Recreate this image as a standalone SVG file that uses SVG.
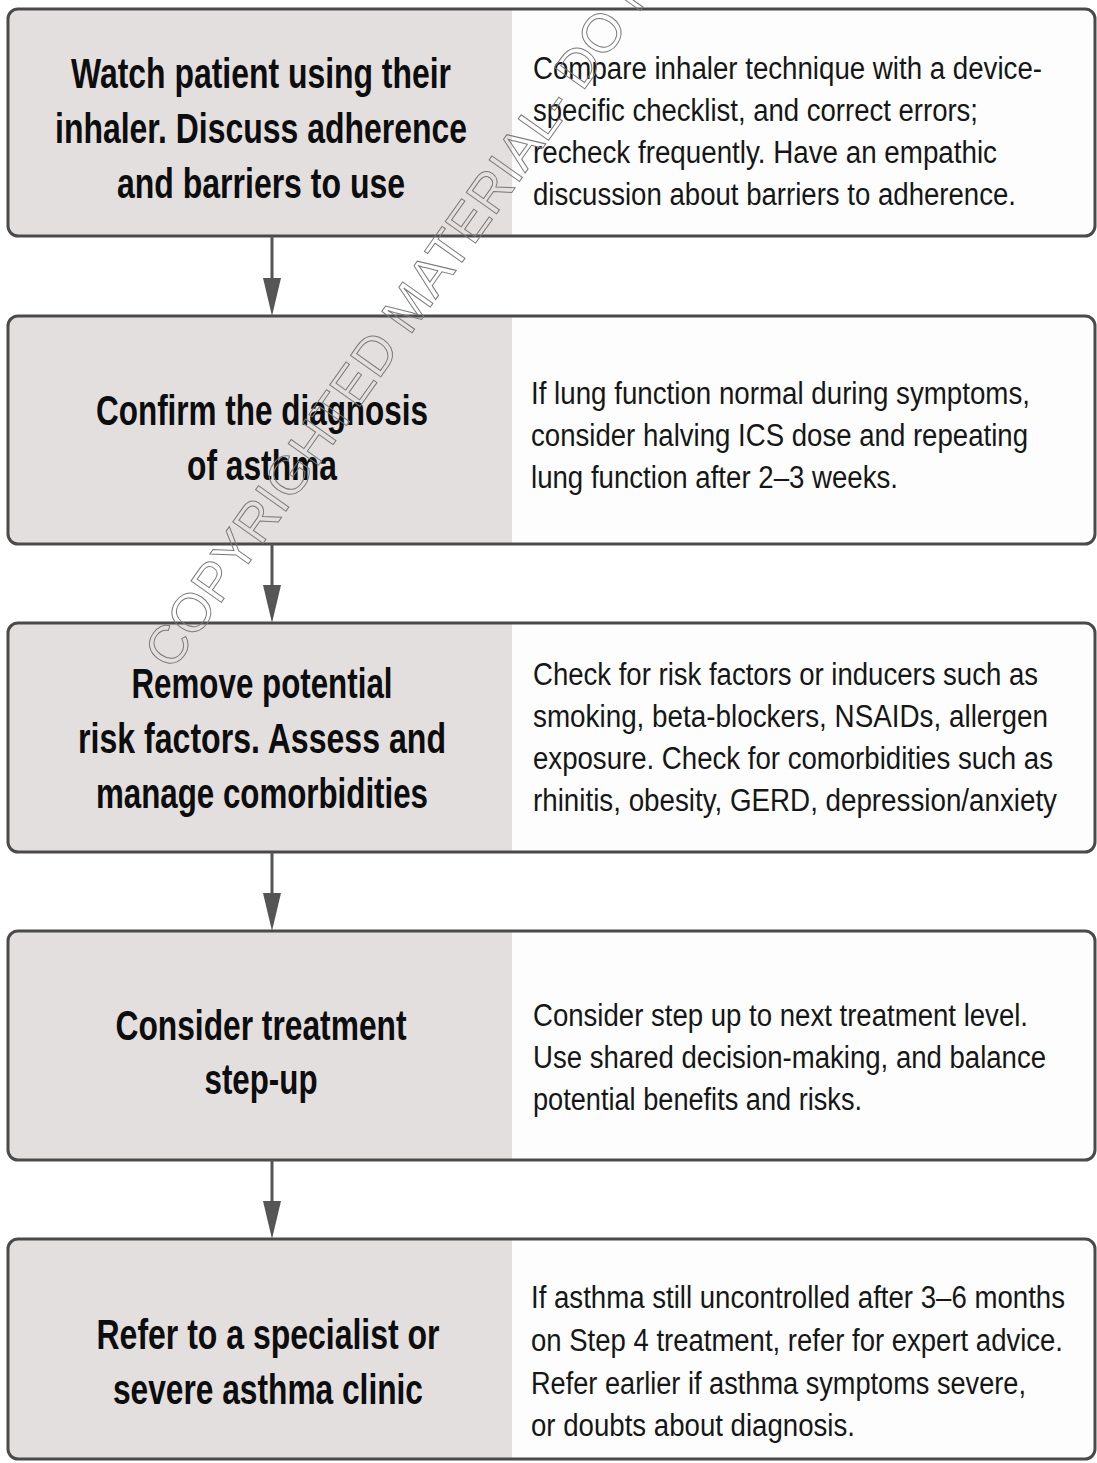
<svg xmlns="http://www.w3.org/2000/svg" width="1097" height="1463" viewBox="0 0 1097 1463">
<defs>
<style>
.bg{fill:#fdfdfd}
.gray{fill:#e3dfde}
.border{fill:none;stroke:#4a4a4a;stroke-width:3}
.lt{font-family:"Liberation Sans",Arial,sans-serif;font-weight:bold;font-size:42px;fill:#0d0d0d;text-anchor:middle}
.rt{font-family:"Liberation Sans",Arial,sans-serif;font-size:31px;fill:#161616}
.conn line{stroke:#555;stroke-width:3}
.conn polygon{fill:#555}
.wm{font-family:"Liberation Sans",Arial,sans-serif;font-size:54px;fill:none;stroke:#7a7a7a;stroke-width:1}
</style>
</defs>
<rect width="1097" height="1463" fill="#ffffff"/>

<g id="node1">
<rect class="bg" x="8" y="9" width="1087" height="227" rx="10"/>
<path class="gray" d="M18,9 H512 V236 H18 A10,10 0 0 1 8,226 V19 A10,10 0 0 1 18,9 Z"/>
<rect class="border" x="8" y="9" width="1087" height="227" rx="10"/>
<text class="lt" x="261" y="88" textLength="380" lengthAdjust="spacingAndGlyphs">Watch patient using their</text>
<text class="lt" x="261" y="143" textLength="412" lengthAdjust="spacingAndGlyphs">inhaler. Discuss adherence</text>
<text class="lt" x="261" y="198" textLength="288" lengthAdjust="spacingAndGlyphs">and barriers to use</text>
<text class="rt" x="533" y="79" textLength="509" lengthAdjust="spacingAndGlyphs">Compare inhaler technique with a device-</text>
<text class="rt" x="533" y="121" textLength="445" lengthAdjust="spacingAndGlyphs">specific checklist, and correct errors;</text>
<text class="rt" x="533" y="163" textLength="464" lengthAdjust="spacingAndGlyphs">recheck frequently. Have an empathic</text>
<text class="rt" x="533" y="205" textLength="483" lengthAdjust="spacingAndGlyphs">discussion about barriers to adherence.</text>
</g>

<g id="node2">
<rect class="bg" x="8" y="316" width="1087" height="228" rx="10"/>
<path class="gray" d="M18,316 H512 V544 H18 A10,10 0 0 1 8,534 V326 A10,10 0 0 1 18,316 Z"/>
<rect class="border" x="8" y="316" width="1087" height="228" rx="10"/>
<text class="lt" x="262" y="425" textLength="332" lengthAdjust="spacingAndGlyphs">Confirm the diagnosis</text>
<text class="lt" x="262" y="480" textLength="150" lengthAdjust="spacingAndGlyphs">of asthma</text>
<text class="rt" x="531" y="404" textLength="499" lengthAdjust="spacingAndGlyphs">If lung function normal during symptoms,</text>
<text class="rt" x="531" y="446" textLength="497" lengthAdjust="spacingAndGlyphs">consider halving ICS dose and repeating</text>
<text class="rt" x="531" y="488" textLength="367" lengthAdjust="spacingAndGlyphs">lung function after 2–3 weeks.</text>
</g>

<g id="node3">
<rect class="bg" x="8" y="623" width="1087" height="229" rx="10"/>
<path class="gray" d="M18,623 H512 V852 H18 A10,10 0 0 1 8,842 V633 A10,10 0 0 1 18,623 Z"/>
<rect class="border" x="8" y="623" width="1087" height="229" rx="10"/>
<text class="lt" x="262" y="698" textLength="261" lengthAdjust="spacingAndGlyphs">Remove potential</text>
<text class="lt" x="262" y="753" textLength="368" lengthAdjust="spacingAndGlyphs">risk factors. Assess and</text>
<text class="lt" x="262" y="808" textLength="332" lengthAdjust="spacingAndGlyphs">manage comorbidities</text>
<text class="rt" x="533" y="685" textLength="505" lengthAdjust="spacingAndGlyphs">Check for risk factors or inducers such as</text>
<text class="rt" x="533" y="727" textLength="515" lengthAdjust="spacingAndGlyphs">smoking, beta-blockers, NSAIDs, allergen</text>
<text class="rt" x="533" y="769" textLength="520" lengthAdjust="spacingAndGlyphs">exposure. Check for comorbidities such as</text>
<text class="rt" x="533" y="811" textLength="524" lengthAdjust="spacingAndGlyphs">rhinitis, obesity, GERD, depression/anxiety</text>
</g>

<g id="node4">
<rect class="bg" x="8" y="931" width="1087" height="229" rx="10"/>
<path class="gray" d="M18,931 H512 V1160 H18 A10,10 0 0 1 8,1150 V941 A10,10 0 0 1 18,931 Z"/>
<rect class="border" x="8" y="931" width="1087" height="229" rx="10"/>
<text class="lt" x="261" y="1040" textLength="291" lengthAdjust="spacingAndGlyphs">Consider treatment</text>
<text class="lt" x="261" y="1094" textLength="113" lengthAdjust="spacingAndGlyphs">step-up</text>
<text class="rt" x="533" y="1026" textLength="495" lengthAdjust="spacingAndGlyphs">Consider step up to next treatment level.</text>
<text class="rt" x="533" y="1068" textLength="513" lengthAdjust="spacingAndGlyphs">Use shared decision-making, and balance</text>
<text class="rt" x="533" y="1110" textLength="329" lengthAdjust="spacingAndGlyphs">potential benefits and risks.</text>
</g>

<g id="node5">
<rect class="bg" x="8" y="1239" width="1087" height="220" rx="10"/>
<path class="gray" d="M18,1239 H512 V1459 H18 A10,10 0 0 1 8,1449 V1249 A10,10 0 0 1 18,1239 Z"/>
<rect class="border" x="8" y="1239" width="1087" height="220" rx="10"/>
<text class="lt" x="268" y="1349" textLength="343" lengthAdjust="spacingAndGlyphs">Refer to a specialist or</text>
<text class="lt" x="268" y="1404" textLength="310" lengthAdjust="spacingAndGlyphs">severe asthma clinic</text>
<text class="rt" x="531" y="1308" textLength="534" lengthAdjust="spacingAndGlyphs">If asthma still uncontrolled after 3–6 months</text>
<text class="rt" x="531" y="1351" textLength="532" lengthAdjust="spacingAndGlyphs">on Step 4 treatment, refer for expert advice.</text>
<text class="rt" x="531" y="1394" textLength="495" lengthAdjust="spacingAndGlyphs">Refer earlier if asthma symptoms severe,</text>
<text class="rt" x="531" y="1436" textLength="324" lengthAdjust="spacingAndGlyphs">or doubts about diagnosis.</text>
</g>

<g id="connectors" class="conn">
<line x1="272" y1="236" x2="272" y2="280"/>
<polygon points="263,278 281,278 272,316"/>
<line x1="272" y1="544" x2="272" y2="587"/>
<polygon points="263,585 281,585 272,623"/>
<line x1="272" y1="852" x2="272" y2="895"/>
<polygon points="263,893 281,893 272,931"/>
<line x1="272" y1="1160" x2="272" y2="1203"/>
<polygon points="263,1201 281,1201 272,1239"/>
</g>

<g id="watermark">
<text class="wm" transform="translate(172,672) rotate(-54.7)">COPYRIGHTED MATERIAL- DO NOT</text>
</g>
</svg>
